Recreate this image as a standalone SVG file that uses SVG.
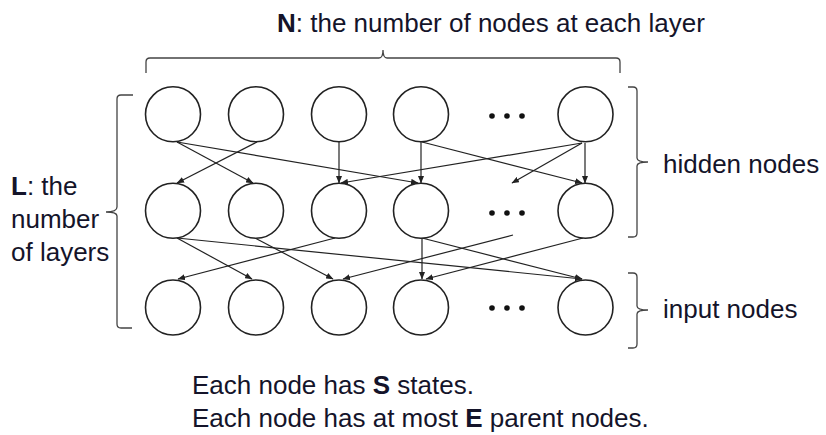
<svg xmlns="http://www.w3.org/2000/svg" width="826" height="435" viewBox="0 0 826 435">
<style>
  .node { fill: #fff; stroke: #222; stroke-width: 1.6; }
  .dot { fill: #111; }
  .edge { stroke: #222; stroke-width: 1.2; fill: none; marker-end: url(#arrow); }
  .brace { stroke: #444; stroke-width: 1.3; fill: none; }
  .lbl { font-family: "Liberation Sans", Arial, sans-serif; font-size: 26px; fill: #14142a; }
  .b { font-weight: bold; }
</style>
<defs>
  <marker id="arrow" markerWidth="8" markerHeight="6" refX="7" refY="3" orient="auto" markerUnits="userSpaceOnUse">
    <path d="M0,0 L7.5,3 L0,6 Z" fill="#222"/>
  </marker>
</defs>
<rect width="826" height="435" fill="#fff"/>

<!-- braces -->
<g id="brace-top">
  <path class="brace" d="M146,73 L146,62 Q146,58 150,58 L379,58 Q383,58 383,50 Q383,58 387,58 L616,58 Q620,58 620,62 L620,73"/>
</g>
<g id="brace-left">
  <path class="brace" d="M133,95 L121,95 Q117,95 117,99 L117,207 Q117,212 106,212 Q117,212 117,216 L117,324 Q117,328 121,328 L132,328"/>
</g>
<g id="brace-hidden">
  <path class="brace" d="M628,87 L633,87 Q637,87 637,91 L637,158 Q637,162 648,162 Q637,162 637,166 L637,233 Q637,237 633,237 L628,237"/>
</g>
<g id="brace-input">
  <path class="brace" d="M628,273 L633,273 Q637,273 637,277 L637,306 Q637,310 648,310 Q637,310 637,314 L637,344 Q637,348 633,348 L628,348"/>
</g>

<!-- connectors -->
<g id="connectors">
  <line class="edge" x1="177" y1="142" x2="253" y2="183"/>
  <line class="edge" x1="177" y1="142" x2="418" y2="183"/>
  <line class="edge" x1="257" y1="142" x2="177" y2="183"/>
  <line class="edge" x1="339" y1="142" x2="339" y2="183"/>
  <line class="edge" x1="421" y1="142" x2="421" y2="183"/>
  <line class="edge" x1="422" y1="142" x2="582" y2="183"/>
  <line class="edge" x1="582" y1="143" x2="341" y2="183"/>
  <line class="edge" x1="582" y1="143" x2="512" y2="183"/>
  <line class="edge" x1="585" y1="143" x2="585" y2="183"/>

  <line class="edge" x1="177" y1="238" x2="252" y2="279"/>
  <line class="edge" x1="177" y1="238" x2="582" y2="279"/>
  <line class="edge" x1="255" y1="238" x2="333" y2="279"/>
  <line class="edge" x1="335" y1="238" x2="178" y2="279"/>
  <line class="edge" x1="422" y1="238" x2="422" y2="279"/>
  <line class="edge" x1="422" y1="238" x2="582" y2="279"/>
  <line class="edge" x1="513" y1="235" x2="343" y2="279"/>
  <line class="edge" x1="583" y1="238" x2="426" y2="279"/>
</g>

<!-- nodes row 1 -->
<g id="n1-1"><circle class="node" cx="173" cy="114.3" r="27.5"/></g>
<g id="n1-2"><circle class="node" cx="256" cy="114.3" r="27.5"/></g>
<g id="n1-3"><circle class="node" cx="339" cy="114.3" r="27.5"/></g>
<g id="n1-4"><circle class="node" cx="421" cy="114.3" r="27.5"/></g>
<g id="n1-dots"><circle class="dot" cx="492" cy="116" r="2.8"/><circle class="dot" cx="507" cy="116" r="2.8"/><circle class="dot" cx="522" cy="116" r="2.8"/></g>
<g id="n1-6"><circle class="node" cx="585.5" cy="114.3" r="27.5"/></g>
<!-- nodes row 2 -->
<g id="n2-1"><circle class="node" cx="173" cy="210.8" r="27.5"/></g>
<g id="n2-2"><circle class="node" cx="256" cy="210.8" r="27.5"/></g>
<g id="n2-3"><circle class="node" cx="339" cy="210.8" r="27.5"/></g>
<g id="n2-4"><circle class="node" cx="421" cy="210.8" r="27.5"/></g>
<g id="n2-dots"><circle class="dot" cx="492" cy="213" r="2.8"/><circle class="dot" cx="507" cy="213" r="2.8"/><circle class="dot" cx="522" cy="213" r="2.8"/></g>
<g id="n2-6"><circle class="node" cx="585.5" cy="210.8" r="27.5"/></g>
<!-- nodes row 3 -->
<g id="n3-1"><circle class="node" cx="173" cy="307.5" r="27.5"/></g>
<g id="n3-2"><circle class="node" cx="256" cy="307.5" r="27.5"/></g>
<g id="n3-3"><circle class="node" cx="339" cy="307.5" r="27.5"/></g>
<g id="n3-4"><circle class="node" cx="421" cy="307.5" r="27.5"/></g>
<g id="n3-dots"><circle class="dot" cx="492" cy="308" r="2.8"/><circle class="dot" cx="507" cy="308" r="2.8"/><circle class="dot" cx="522" cy="308" r="2.8"/></g>
<g id="n3-6"><circle class="node" cx="585.5" cy="307.5" r="27.5"/></g>

<!-- labels -->
<g id="labels">
  <text class="lbl" x="277" y="32"><tspan class="b">N</tspan>: the number of nodes at each layer</text>
  <text class="lbl" x="11" y="195"><tspan class="b">L</tspan>: the</text>
  <text class="lbl" x="11" y="228">number</text>
  <text class="lbl" x="11" y="261">of layers</text>
  <text class="lbl" x="663" y="173">hidden nodes</text>
  <text class="lbl" x="663" y="318">input nodes</text>
  <text class="lbl" x="192" y="394">Each node has <tspan class="b">S</tspan> states.</text>
  <text class="lbl" x="192" y="427">Each node has at most <tspan class="b">E</tspan> parent nodes.</text>
</g>
</svg>
